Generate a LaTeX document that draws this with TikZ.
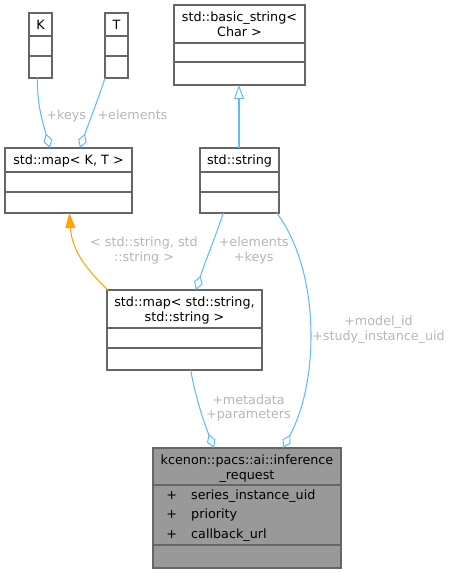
\documentclass[tikz,border=0pt]{standalone}
\usepackage{fontspec}
\setmainfont{DejaVu Sans}
\usetikzlibrary{arrows.meta}
\definecolor{edgeblue}{HTML}{63B8FF}
\definecolor{boxline}{HTML}{666666}
\definecolor{mainfill}{HTML}{999999}
\definecolor{lblgray}{HTML}{B6B6B6}
\definecolor{tmplorange}{HTML}{FFA500}
\begin{document}
\begin{tikzpicture}[x=1pt,y=-1pt,
  box/.style={draw=boxline, line width=1.3pt, fill=white, inner sep=0pt, outer sep=0pt, anchor=north west},
  divider/.style={draw=boxline, line width=1.3pt},
  txt/.style={inner sep=0pt, font=\fontsize{12.75}{14.4}\selectfont, align=center},
  lbl/.style={txt, text=lblgray},
  agg/.style={draw=edgeblue, line width=1.05pt, -{Diamond[open, length=15pt, width=9pt, line width=1pt]}},
  inherit/.style={draw=edgeblue, line width=1.05pt, -{Triangle[open, length=14pt, width=10pt, line width=1pt]}},
  tmpl/.style={draw=tmplorange, line width=1.05pt, -{Triangle[length=15pt, width=10pt]}, color=tmplorange}
]
\useasboundingbox (0,0) rectangle (453,573);

% class boxes
\node[box, minimum width=23, minimum height=65] (K) at (29,13) {};
\draw[divider] (29,36) -- (52,36);
\draw[divider] (29,56) -- (52,56);
\node[txt] (Kt) at (40.5,26.8) {\strut K};

\node[box, minimum width=23, minimum height=65] (T) at (105,13) {};
\draw[divider] (105,36) -- (128,36);
\draw[divider] (105,56) -- (128,56);
\node[txt] (Tt) at (116.5,26.8) {\strut T};

\node[box, minimum width=131, minimum height=80] (basic) at (174,5) {};
\draw[divider] (174,43) -- (305,43);
\draw[divider] (174,62) -- (305,62);
\node[txt] (basict) at (239.5,26.0) {\strut std::basic\_string<\\\strut Char >};

\node[box, minimum width=127, minimum height=65] (mapKT) at (5,148) {};
\draw[divider] (5,172) -- (132,172);
\draw[divider] (5,192) -- (132,192);
\node[txt] (mapKTt) at (68.5,161.8) {\strut std::map< K, T >};

\node[box, minimum width=79, minimum height=65] (str) at (200,148) {};
\draw[divider] (200,172) -- (279,172);
\draw[divider] (200,192) -- (279,192);
\node[txt] (strt) at (239.5,161.8) {\strut std::string};

\node[box, minimum width=155, minimum height=80] (mapSS) at (107,290) {};
\draw[divider] (107,328) -- (262,328);
\draw[divider] (107,348) -- (262,348);
\node[txt] (mapSSt) at (184.5,311.0) {\strut std::map< std::string,\\\strut std::string >};

\node[box, fill=mainfill, minimum width=188, minimum height=120] (inf) at (153,448) {};
\draw[divider] (153,485) -- (341,485);
\draw[divider] (153,545) -- (341,545);
\node[txt] (inft) at (247,469.0) {\strut kcenon::pacs::ai::inference\\\strut \_request};
\node[txt] (p1) at (171.7,496.4) {\strut +};
\node[txt, anchor=west] (m1) at (191,496.4) {\strut series\_instance\_uid};
\node[txt] (p2) at (171.7,515.9) {\strut +};
\node[txt, anchor=west] (m2) at (191,515.9) {\strut priority};
\node[txt] (p3) at (171.7,535.4) {\strut +};
\node[txt, anchor=west] (m3) at (191,535.4) {\strut callback\_url};

% connectors
\draw[agg] ([xshift=-3.2]K.south) .. controls (37.3,105) and (42,120) .. ([xshift=-18.5]mapKT.north);
\draw[agg] ([xshift=-11.5]T.south) .. controls (98,100) and (88,125) .. ([xshift=11.5]mapKT.north);
\draw[inherit] ([xshift=-0.5]str.north) -- ([xshift=-0.5]basic.south);
\draw[tmpl] ([xshift=1]mapSS.north west) .. controls (85,268) and (72,250) .. ([xshift=0.8]mapKT.south);
\draw[agg] ([xshift=-16.2]str.south) .. controls (215,238) and (205,262) .. ([xshift=11.5]mapSS.north);
\draw[agg] ([xshift=37.2]str.south) .. controls (320,270) and (320,380) .. ([xshift=36]inf.north);
\draw[agg] ([xshift=6.2]mapSS.south) .. controls (196,400) and (205,425) .. ([xshift=-33]inf.north);

% labels
\node[lbl] (l1) at (66.3,116.3) {\strut +keys};
\node[lbl] (l2) at (132.5,116.3) {\strut +elements};
\node[lbl] (l3) at (144,251.1) {\strut < std::string, std\\\strut ::string >};
\node[lbl] (l4) at (253.7,251.1) {\strut +elements\\\strut +keys};
\node[lbl] (l5) at (378.5,330.1) {\strut +model\_id\\\strut +study\_instance\_uid};
\node[lbl] (l6) at (248.5,408.5) {\strut +metadata\\\strut +parameters};
\end{tikzpicture}
\end{document}
